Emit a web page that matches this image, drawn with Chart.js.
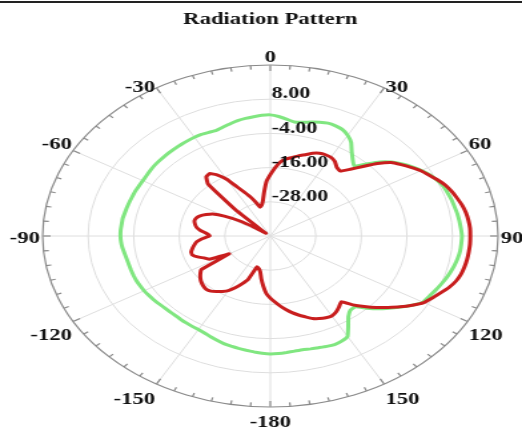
<!DOCTYPE html>
<html>
<head>
<meta charset="utf-8">
<script src="https://cdn.jsdelivr.net/npm/chart.js@4"></script>
<style>
  html, body { margin: 0; padding: 0; background: #fff; overflow: hidden; }
  #wrap { position: relative; width: 522px; height: 429px; }
  #topline { position: absolute; left: 0; top: 1px; width: 522px; height: 2px; background: #222; }
  #polar { position: absolute; left: 0; top: 0; transform: scaleX(1.33163); transform-origin: 0 0; }
</style>
</head>
<body>
<div id="wrap">
  <canvas id="polar" width="392" height="429"></canvas>
  <div id="topline"></div>
</div>
<script>
// angle categories, 3 degree steps, 0 at top, clockwise
const angles = Array.from({ length: 120 }, (_, i) => i * 3);
const angleLabels = ["0", "30", "60", "90", "120", "150", "-180", "-150", "-120", "-90", "-60", "-30"];
const radialTicks = [-28, -16, -4, 8];

// dB values, one per 3 degrees starting at 0
const redPattern = [
  -18.5, -16, -13.8, -12.6, -11.8, -10.8, -10, -8.9, -8.2, -8,
  -8.1, -8.8, -10.2, -10.7, -8.5, -5.5, -2, 1, 2.6, 4.2,
  5.8, 7, 8.3, 9.5, 10.3, 11, 11.7, 12.2, 12.5, 12.7,
  12.7, 12.7, 12.6, 12.5, 12.3, 12, 11.4, 10.4, 9.1, 7.9,
  6.7, 4.6, 2.3, -0.2, -2.5, -5, -7.5, -10.3, -9.2, -8.2,
  -7.6, -7.8, -8.3, -9, -10.2, -11.3, -12.5, -13.9, -15.3, -16.8,
  -18.2, -19.8, -22.3, -24.8, -27.2, -28.2, -28.6, -23.7, -21.6, -19.6,
  -17.9, -16.8, -15.9, -15.1, -14.8, -15.1, -15.6, -16.3, -17.2, -18.3,
  -27.5, -22, -21, -19.5, -18.4, -18.4, -19, -19.7, -20.5, -22,
  -24, -23.2, -21.5, -20.3, -19.7, -19.3, -19.5, -20.2, -21.5, -23,
  -26, -30, -35, -38.5, -37, -27, -15.5, -13.2, -12.9, -14.5,
  -17, -20.6, -23.2, -25.3, -27.5, -29.5, -29, -27.5, -24.5, -20.8
];

const greenPattern = [
  2.5, 2, 1.2, 0.5, 0.8, 1.4, 2, 2.4, 2.3, 1.9,
  0.8, -0.9, -3.5, -5.5, -7, -4.3, -1.2, 1.2, 3, 4.6,
  6, 7.2, 8.1, 8.8, 9.1, 9.4, 9.6, 9.9, 10.1, 10.3,
  10.5, 10.4, 10.3, 10, 9.6, 9.1, 8.6, 8, 7.4, 6.9,
  6.4, 4.6, 2.4, 0.3, -1.8, -4.2, -6.6, -6.5, -5, -2.3,
  0.7, 1.4, 1.7, 1.5, 1.2, 1, 0.8, 0.9, 1.1, 1.3,
  1.4, 1.2, 0.9, 0.6, 0.3, 0, -0.3, -0.8, -1.3, -1.8,
  -2.1, -2.2, -2.3, -2.4, -2.5, -2.5, -2.4, -2.2, -2, -1.8,
  -1.6, -1.5, -1.4, -1.4, -1.4, -1.4, -1.3, -1.1, -0.8, -0.6,
  -0.5, -0.5, -0.6, -0.6, -0.8, -0.9, -1, -1.1, -1.1, -1.2,
  -1.2, -1.1, -0.9, -0.7, -0.6, -0.5, -0.4, -0.3, -0.2, -0.1,
  0, 0, -0.2, -0.3, 0.2, 0.8, 1.4, 1.8, 2.1, 2.4
];

const serif = "'Liberation Serif', 'Times New Roman', serif";

// where each angle label sits relative to the outer ring point
const labelShift = { 0: [0, -7], 30: [1, 0], 60: [1, -6], 90: [2, 3], 120: [1, 14], 150: [1, 16], 180: [0, 16] };

const ringPlugin = {
  id: "ring",
  afterDatasetsDraw(chart) {
    const s = chart.scales.r;
    const ctx = chart.ctx;
    ctx.save();
    ctx.fillStyle = "#111";
    ctx.font = "bold 16.5px " + serif;
    ctx.textAlign = "left";
    ctx.textBaseline = "middle";
    for (const v of radialTicks) {
      const d = s.getDistanceFromCenterForValue(v);
      ctx.fillText(v.toFixed(2), s.xCenter + 1, s.yCenter - d - 5);
    }
    ctx.restore();
  },
  afterDraw(chart) {
    const s = chart.scales.r;
    const ctx = chart.ctx;
    const R = s.drawingArea;
    ctx.save();
    // small ticks round the outer ring
    ctx.strokeStyle = "#8a8a8a";
    ctx.lineWidth = 1.2;
    for (let deg = 0; deg < 360; deg += 5) {
      const a = deg * Math.PI / 180 - Math.PI / 2;
      const len = deg % 30 === 0 ? 6 : 4;
      ctx.beginPath();
      ctx.moveTo(s.xCenter + Math.cos(a) * R, s.yCenter + Math.sin(a) * R);
      ctx.lineTo(s.xCenter + Math.cos(a) * (R - len), s.yCenter + Math.sin(a) * (R - len));
      ctx.stroke();
    }
    // angle labels
    ctx.fillStyle = "#111";
    ctx.font = "bold 17px " + serif;
    ctx.textBaseline = "middle";
    angleLabels.forEach((txt, k) => {
      const deg = k * 30;
      const a = deg * Math.PI / 180 - Math.PI / 2;
      const px = s.xCenter + Math.cos(a) * R;
      const py = s.yCenter + Math.sin(a) * R;
      const m = deg > 180 ? 360 - deg : deg;
      const [dx, dy] = labelShift[m];
      let x = px;
      if (deg === 0 || deg === 180) {
        ctx.textAlign = "center";
      } else if (deg < 180) {
        ctx.textAlign = "left";
        x = px + dx;
      } else {
        ctx.textAlign = "right";
        x = px - dx;
      }
      ctx.fillText(txt, x, py + dy);
    });
    ctx.restore();
  }
};

new Chart(document.getElementById("polar"), {
  type: "radar",
  data: {
    labels: angles,
    datasets: [
      {
        label: "Curve A",
        data: redPattern,
        borderColor: "#c81e1e",
        borderWidth: 3,
        fill: false,
        pointRadius: 0,
        tension: 0.1,
      },
      {
        label: "Curve B",
        data: greenPattern,
        borderColor: "#80e680",
        borderWidth: 3,
        fill: false,
        pointRadius: 0,
        tension: 0.1,
      },
    ],
  },
  options: {
    responsive: false,
    animation: false,
    devicePixelRatio: 1,
    layout: { padding: { left: 32, right: 18, top: 0, bottom: 22 } },
    plugins: {
      legend: { display: false },
      tooltip: { enabled: false },
      title: {
        display: true,
        text: "Radiation Pattern",
        color: "#111",
        font: { family: serif, size: 17, weight: "bold" },
        padding: { top: 9, bottom: 35.6 },
      },
    },
    elements: { line: { borderJoinStyle: "round", borderCapStyle: "round" } },
    scales: {
      r: {
        min: -40,
        max: 20,
        ticks: { display: false, stepSize: 12 },
        grid: {
          circular: true,
          color: ctx => (ctx.tick && ctx.tick.value === 20 ? "#8a8a8a" : "#dedede"),
          lineWidth: ctx => (ctx.tick && ctx.tick.value === 20 ? 1.2 : 1),
        },
        angleLines: {
          color: "#dedede",
          lineWidth: ctx => (ctx.index % 10 === 0 ? 1 : 0),
        },
        pointLabels: { display: false },
      },
    },
  },
  plugins: [ringPlugin],
});
</script>
</body>
</html>
